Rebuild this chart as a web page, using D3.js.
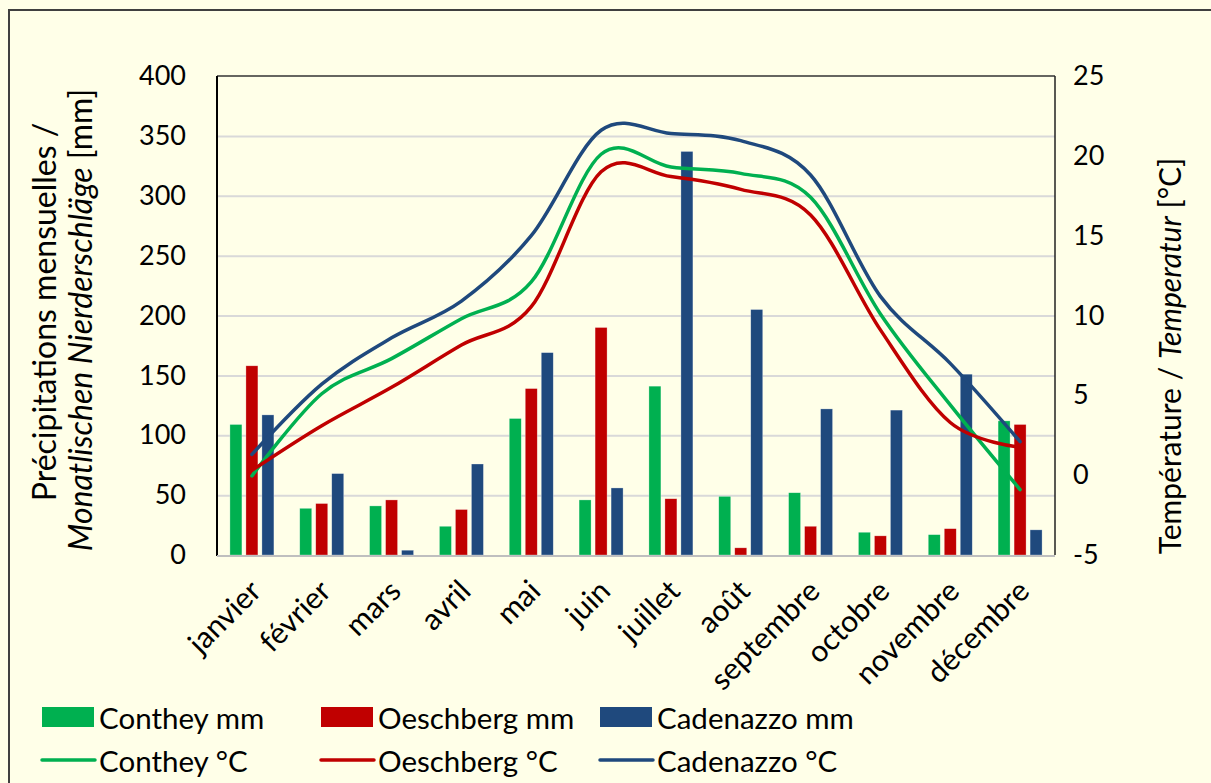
<!DOCTYPE html>
<html>
<head>
<meta charset="utf-8">
<script src="https://cdn.jsdelivr.net/npm/d3@7"></script>
<style>
html,body{margin:0;padding:0;background:#FFFFE8;overflow:hidden;}
svg{display:block;}
text{font-family:Lato,"Open Sans",sans-serif;fill:#000;}
</style>
</head>
<body>
<svg id="chart" width="1211" height="783"></svg>
<script>
const months = ["janvier","février","mars","avril","mai","juin","juillet","août","septembre","octobre","novembre","décembre"];
const contheyMm   = [109, 39, 41, 24, 114, 46, 141, 49, 52, 19, 17, 112];
const oeschbergMm = [158, 43, 46, 38, 139, 190, 47, 6, 24, 16, 22, 109];
const cadenazzoMm = [117, 68, 4, 76, 169, 56, 337, 205, 122, 121, 151, 21];
const contheyC    = [-0.05, 5.1, 7.3, 9.8, 12.1, 20.1, 19.3, 18.9, 17.4, 10.1, 4.4, -0.9];
const oeschbergC  = [0.3, 3.1, 5.5, 8.15, 10.55, 19.0, 18.7, 17.9, 16.3, 9.1, 3.3, 1.75];
const cadenazzoC  = [1.3, 5.7, 8.6, 10.9, 15.0, 21.6, 21.4, 20.95, 18.8, 11.2, 7.0, 2.1];
const leftTicks  = [0, 50, 100, 150, 200, 250, 300, 350, 400];
const rightTicks = [-5, 0, 5, 10, 15, 20, 25];
const seriesNames = ["Conthey", "Oeschberg", "Cadenazzo"];
const seriesColors = ["#00B050", "#C00000", "#1F497D"];

const barSeries = [contheyMm, oeschbergMm, cadenazzoMm];
const lineSeries = [contheyC, oeschbergC, cadenazzoC];

const svg = d3.select("#chart");
const m = {left: 217, right: 1055, top: 76, bottom: 555};

// outer border (only top and left visible in the frame)
svg.append("path").attr("d", "M9,783 L9,10 L1211,10")
  .attr("fill", "none").attr("stroke", "#404040").attr("stroke-width", 2);

const x = d3.scaleBand().domain(months).range([m.left, m.right]).padding(0);
const xs = d3.scaleBand().domain(seriesNames).range([-22, 22]).paddingInner(0.25).paddingOuter(0);
const y = d3.scaleLinear().domain([0, 400]).range([m.bottom, m.top]);
const y2 = d3.scaleLinear().domain([-5, 25]).range([m.bottom, m.top]);

// gridlines
const grid = svg.append("g").attr("transform", `translate(${m.left},0)`)
  .call(d3.axisLeft(y).tickValues(leftTicks.filter(v => v > 0 && v < 400)).tickSize(-(m.right - m.left)).tickFormat(""));
grid.select(".domain").remove();
grid.selectAll("line").attr("stroke", "#D9D9D9").attr("stroke-width", 2);

// bars
barSeries.forEach((vals, si) => {
  svg.append("g").selectAll("rect").data(vals).join("rect")
    .attr("x", (d, i) => x(months[i]) + x.bandwidth() / 2 + xs(seriesNames[si]))
    .attr("width", xs.bandwidth())
    .attr("y", d => y(d))
    .attr("height", d => y(0) - y(d))
    .attr("fill", seriesColors[si])
    .attr("stroke", "rgba(255,255,255,0.5)").attr("stroke-width", 0.6);
});

// lines
const line = d3.line()
  .x((d, i) => x(months[i]) + x.bandwidth() / 2)
  .y(d => y2(d))
  .curve(d3.curveCardinal.tension(0));
lineSeries.forEach((vals, si) => {
  svg.append("path").datum(vals).attr("d", line)
    .attr("fill", "none").attr("stroke", seriesColors[si]).attr("stroke-width", 3.5)
    .attr("stroke-linecap", "round");
});

// plot frame
svg.append("line").attr("x1", m.left).attr("x2", m.right).attr("y1", m.top).attr("y2", m.top).attr("stroke", "#333").attr("stroke-width", 1.5);
svg.append("line").attr("x1", m.right).attr("x2", m.right).attr("y1", m.top).attr("y2", m.bottom).attr("stroke", "#222").attr("stroke-width", 1.5);
svg.append("line").attr("x1", m.left).attr("x2", m.left).attr("y1", m.top).attr("y2", m.bottom + 1).attr("stroke", "#000").attr("stroke-width", 2);
svg.append("line").attr("x1", m.left).attr("x2", m.right).attr("y1", m.bottom + 1).attr("y2", m.bottom + 1).attr("stroke", "#BFBFBF").attr("stroke-width", 2);

// left axis labels
const ax = svg.append("g").attr("transform", `translate(${m.left},0)`)
  .call(d3.axisLeft(y).tickValues(leftTicks).tickSize(0).tickPadding(31).tickFormat(d => String(d)));
ax.select(".domain").remove();
ax.selectAll("text").attr("font-size", 27).attr("font-family", "Lato");

// right axis labels
const ax2 = svg.append("g").attr("transform", `translate(${m.right},0)`)
  .call(d3.axisRight(y2).tickValues(rightTicks).tickSize(0).tickPadding(18).tickFormat(d => String(d)));
ax2.select(".domain").remove();
ax2.selectAll("text").attr("font-size", 27).attr("font-family", "Lato");

// x labels
svg.append("g").selectAll("text").data(months).join("text")
  .attr("transform", d => `translate(${x(d) + x.bandwidth() / 2 + 11},${m.bottom + 38}) rotate(-45)`)
  .attr("text-anchor", "end")
  .attr("font-size", 30)
  .text(d => d);

// left title
svg.append("text").attr("transform", "translate(56,312) rotate(-90)")
  .attr("text-anchor", "middle").attr("font-size", 32)
  .text("Précipitations mensuelles /");
const t2 = svg.append("text").attr("transform", "translate(92,320) rotate(-90)")
  .attr("text-anchor", "middle").attr("font-size", 32);
t2.append("tspan").attr("font-style", "italic").text("Monatlischen Nierderschläge");
t2.append("tspan").text(" [mm]");

// right title
const t3 = svg.append("text").attr("transform", "translate(1181,356) rotate(-90)")
  .attr("text-anchor", "middle").attr("font-size", 30);
t3.append("tspan").text("Température / ");
t3.append("tspan").attr("font-style", "italic").text("Temperatur");
t3.append("tspan").text(" [°C]");

// legend
const legX = [42, 321, 600];
const leg = svg.append("g");
seriesNames.forEach((n, i) => {
  leg.append("rect").attr("x", legX[i]).attr("y", 707).attr("width", 52).attr("height", 20).attr("fill", seriesColors[i]);
  leg.append("text").attr("x", legX[i] + 57).attr("y", 717).attr("dominant-baseline", "central")
    .attr("font-size", 29.5).text(n + " mm");
  leg.append("line").attr("x1", legX[i]).attr("x2", legX[i] + 53).attr("y1", 760).attr("y2", 760)
    .attr("stroke", seriesColors[i]).attr("stroke-width", 3.5).attr("stroke-linecap", "round");
  leg.append("text").attr("x", legX[i] + 57).attr("y", 760).attr("dominant-baseline", "central")
    .attr("font-size", 29.5).text(n + " °C");
});
</script>
</body>
</html>
